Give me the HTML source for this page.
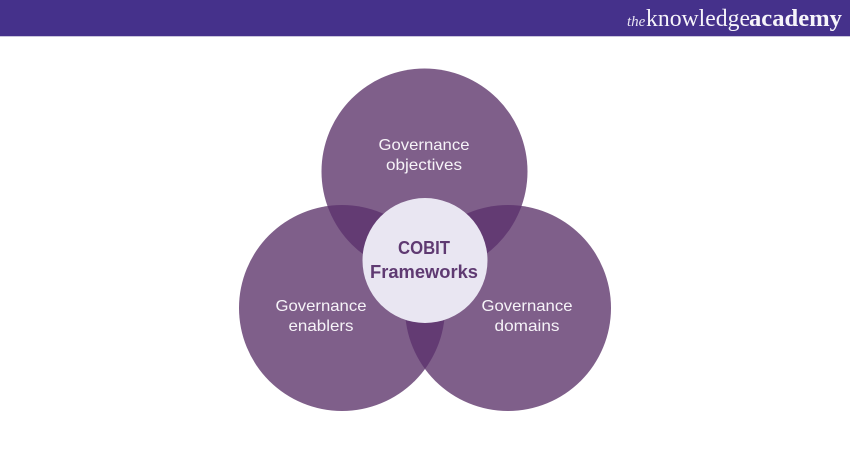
<!DOCTYPE html>
<html>
<head>
<meta charset="utf-8">
<style>
html,body{margin:0;padding:0;background:#fff}
svg{display:block}
</style>
</head>
<body>
<svg width="850" height="450" viewBox="0 0 850 450" xmlns="http://www.w3.org/2000/svg">
<defs>
<clipPath id="a"><circle cx="424.5" cy="171.5" r="103"/></clipPath>
<clipPath id="b"><circle cx="342" cy="308" r="103"/></clipPath>
<clipPath id="c"><circle cx="508" cy="308" r="103"/></clipPath>
</defs>
<rect width="850" height="450" fill="#fff"/>
<rect width="850" height="36" fill="#45318b"/>
<rect y="36" width="850" height="1" fill="#c9c5dc"/>
<text x="627" y="26" font-family="Liberation Serif,serif" font-style="italic" font-size="15" fill="#e8e4f2">the</text>
<text x="646" y="26" font-family="Liberation Serif,serif" font-size="24.5" fill="#f6f4fa" textLength="104" lengthAdjust="spacingAndGlyphs">knowledge</text>
<text x="749" y="26" font-family="Liberation Serif,serif" font-weight="bold" font-size="24.5" fill="#f6f4fa" textLength="93" lengthAdjust="spacingAndGlyphs">academy</text>

<circle cx="424.5" cy="171.5" r="103" fill="#7f5f8a"/>
<circle cx="342" cy="308" r="103" fill="#7f5f8a"/>
<circle cx="508" cy="308" r="103" fill="#7f5f8a"/>
<g clip-path="url(#a)"><circle cx="342" cy="308" r="103" fill="#633b73"/><circle cx="508" cy="308" r="103" fill="#633b73"/></g>
<g clip-path="url(#b)"><circle cx="508" cy="308" r="103" fill="#633b73"/></g>
<circle cx="425" cy="260.5" r="62.5" fill="#e9e6f2"/>

<g font-family="Liberation Sans,sans-serif" font-size="16" fill="#f6f3f8" text-anchor="middle">
<text x="424" y="150" textLength="91" lengthAdjust="spacingAndGlyphs">Governance</text>
<text x="424" y="170" textLength="76" lengthAdjust="spacingAndGlyphs">objectives</text>
<text x="321" y="311" textLength="91" lengthAdjust="spacingAndGlyphs">Governance</text>
<text x="321" y="331" textLength="65" lengthAdjust="spacingAndGlyphs">enablers</text>
<text x="527" y="311" textLength="91" lengthAdjust="spacingAndGlyphs">Governance</text>
<text x="527" y="331" textLength="65" lengthAdjust="spacingAndGlyphs">domains</text>
</g>
<g font-family="Liberation Sans,sans-serif" font-size="18" font-weight="bold" fill="#5f3a72" text-anchor="middle">
<text x="424" y="254" textLength="52" lengthAdjust="spacingAndGlyphs">COBIT</text>
<text x="424" y="278" textLength="108" lengthAdjust="spacingAndGlyphs">Frameworks</text>
</g>
</svg>
</body>
</html>
